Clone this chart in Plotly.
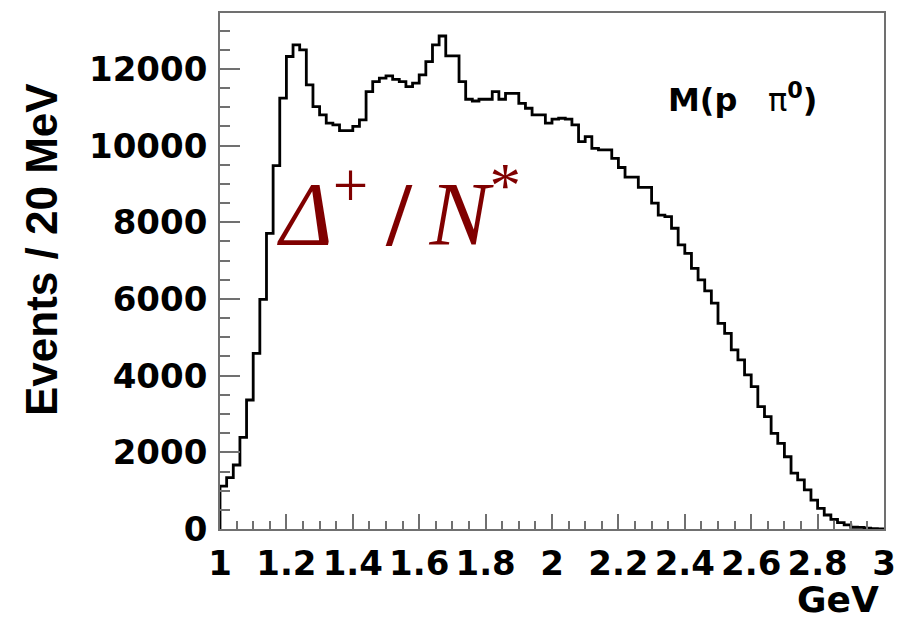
import numpy as np
import plotly.graph_objects as go

# ---- data: M(p pi0) histogram, 20 MeV bins from 1.0 to 3.0 GeV ----
bin_low = 1.0
bin_width = 0.02
counts = [
    1120, 1340, 1670, 2390, 3365, 4580, 5990, 7710, 9480, 11240,
    12325, 12630, 12500, 11585, 11020, 10800, 10585, 10540, 10390, 10390,
    10500, 10670, 11410, 11670, 11760, 11820, 11730, 11670, 11540, 11630,
    11845, 12190, 12630, 12860, 12340, 12340, 11670, 11210, 11165, 11210,
    11210, 11410, 11210, 11365, 11365, 11105, 10975, 10800, 10800, 10585,
    10690, 10715, 10690, 10540, 10105, 10235, 9930, 9890, 9890, 9670,
    9430, 9180, 9180, 8910, 8910, 8500, 8190, 8150, 7845, 7410,
    7190, 6800, 6500, 6210, 5890, 5365, 5105, 4670, 4410, 4020,
    3715, 3190, 2930, 2495, 2235, 1885, 1455, 1280, 1020, 755,
    540, 365, 250, 165, 105, 45, 40, 25, 10, 5,
]
x_tickvals = [1.0, 1.2, 1.4, 1.6, 1.8, 2.0, 2.2, 2.4, 2.6, 2.8, 3.0]
x_ticktext = ["1", "1.2", "1.4", "1.6", "1.8", "2", "2.2", "2.4", "2.6", "2.8", "3"]
y_tickvals = [0, 2000, 4000, 6000, 8000, 10000, 12000]
y_ticktext = ["0", "2000", "4000", "6000", "8000", "10000", "12000"]
x_title = "GeV"
y_title = "Events / 20 MeV"
hist_title = "<b>M(p</b>\u00a0\u00a0\u00a0\u03c0<sup><b>0</b></sup><b>)</b>"
label_text = "<i>\u0394</i><sup>+</sup>\u2009<b>/</b>\u2009<i>N</i><sup>*</sup>"

n = len(counts)
edges = bin_low + bin_width * np.arange(n + 1)
# step outline: rise from baseline at first edge, follow bins, drop to baseline at last edge
step_x = np.concatenate([[edges[0]], edges, [edges[-1]]])
step_y = np.concatenate([[0], np.array(counts, dtype=float), [counts[-1]], [0]])

fig = go.Figure()
fig.add_trace(go.Scatter(
    x=step_x, y=step_y, mode="lines", line=dict(color="black", width=2.8, shape="hv"),
    hoverinfo="skip", showlegend=False,
))

axis_col = "#707070"
tick_font = dict(family="DejaVu Sans", size=34, color="black", weight="bold")

fig.update_xaxes(
    range=[1, 3], tickmode="array", tickvals=x_tickvals, ticktext=x_ticktext,
    ticks="inside", ticklen=15, tickwidth=1.5, tickcolor=axis_col,
    minor=dict(dtick=0.05, ticks="inside", ticklen=8, tickwidth=1.5, tickcolor=axis_col),
    showline=True, linecolor=axis_col, linewidth=1.8, mirror=True,
    showgrid=False, zeroline=False, tickfont=tick_font, ticklabelstandoff=3,
)
fig.update_yaxes(
    range=[0, 13460], tickmode="array", tickvals=y_tickvals, ticktext=y_ticktext,
    ticks="inside", ticklen=20, tickwidth=1.5, tickcolor=axis_col,
    minor=dict(dtick=500, ticks="inside", ticklen=10, tickwidth=1.5, tickcolor=axis_col),
    showline=True, linecolor=axis_col, linewidth=1.8, mirror=True,
    showgrid=False, zeroline=False, tickfont=tick_font, ticklabelstandoff=4,
)

L, R, T, B = 220, 17, 13, 92
W, H = 901, 621
pw, ph = W - L - R, H - T - B

def px(xp):
    return (xp - L) / pw

def py(yp):
    return (H - B - yp) / ph

annotations = [
    dict(text=y_title, x=px(41), y=py(250), xref="paper", yref="paper",
         textangle=-90, showarrow=False, xanchor="center", yanchor="middle",
         font=dict(family="Liberation Sans", size=44, color="black", weight="bold")),
    dict(text=x_title, x=px(881), y=py(599), xref="paper", yref="paper",
         showarrow=False, xanchor="right", yanchor="middle",
         font=dict(family="DejaVu Sans", size=36, color="black", weight="bold")),
    dict(text=hist_title, x=px(742), y=py(98), xref="paper", yref="paper",
         showarrow=False, xanchor="center", yanchor="middle",
         font=dict(family="DejaVu Sans", size=32, color="black")),
    dict(text=label_text, x=px(275), y=py(207), xref="paper", yref="paper",
         showarrow=False, xanchor="left", yanchor="middle",
         font=dict(family="Liberation Serif", size=90, color="#800000")),
]

fig.update_layout(
    width=W, height=H, margin=dict(l=L, r=R, t=T, b=B, autoexpand=False),
    paper_bgcolor="white", plot_bgcolor="white",
    annotations=annotations, showlegend=False,
)

fig.write_html("out.html")
